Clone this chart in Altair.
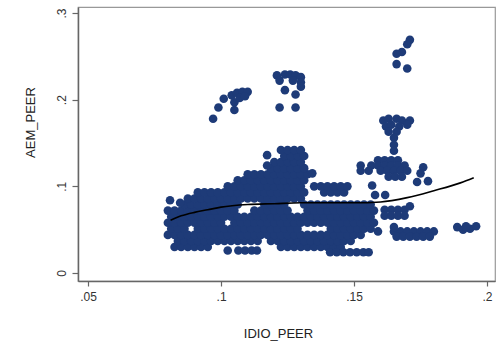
import altair as alt
import pandas as pd

# ---- main dense cloud, rows of IDIO_PEER values at a given AEM_PEER ----
row_030 = [0.0825,0.085,0.0875,0.09,0.0925,0.095,0.1225,0.125,0.1275,0.13,0.1325,0.135,0.1375,0.14,0.1425,0.145]
row_037 = [0.08375,0.08625,0.08875,0.09125,0.09375,0.09625,0.09875,0.10125,0.10375,0.10625,0.10875,0.11125,0.11375,0.11875,0.12125,0.12375,0.12625,0.12875,0.13125,0.13375,0.13625,0.13875,0.14125,0.14375,0.14625,0.14875]
row_044 = [0.08,0.0825,0.085,0.0875,0.09,0.0925,0.095,0.0975,0.1,0.1025,0.105,0.1075,0.11,0.1125,0.115,0.1175,0.12,0.1225,0.125,0.1275,0.13,0.1325,0.135,0.1375,0.14,0.1425,0.145,0.1475,0.15,0.1525]
row_051 = [0.08125,0.08375,0.08625,0.09125,0.09375,0.09625,0.09875,0.10125,0.10375,0.10625,0.10875,0.11125,0.11375,0.11625,0.11875,0.12125,0.12375,0.12625,0.12875,0.14125,0.14375,0.14625,0.14875,0.15125,0.15375,0.15625]
row_058 = [0.08,0.0825,0.085,0.0875,0.09,0.0925,0.095,0.0975,0.1,0.105,0.1075,0.11,0.1125,0.115,0.1175,0.12,0.1225,0.125,0.1275,0.13,0.1325,0.135,0.1375,0.14,0.1425,0.145,0.1475,0.15,0.1525,0.155,0.1575]
row_065 = [0.08125,0.08375,0.08625,0.08875,0.09125,0.09375,0.09625,0.09875,0.10125,0.10375,0.10625,0.10875,0.11125,0.11375,0.11625,0.11875,0.12125,0.12375,0.12625,0.12875,0.13125,0.13375,0.13625,0.13875,0.14125,0.14375,0.14625,0.14875,0.15125,0.15375,0.15625]
row_072 = [0.08,0.0825,0.085,0.0875,0.09,0.0925,0.095,0.0975,0.1,0.1025,0.105,0.1125,0.115,0.1175,0.12,0.1225,0.125,0.1325,0.135,0.1375,0.14,0.1425,0.145,0.1475,0.15,0.1525,0.155,0.1575]
row_079 = [0.08625,0.08875,0.09125,0.09375,0.09625,0.09875,0.10125,0.10375,0.10625,0.11625,0.11875,0.12125,0.12375,0.13125,0.13375,0.13625,0.13875,0.14125,0.14375,0.14625,0.14875,0.15125,0.15375,0.15625]
row_086 = [0.0875,0.09,0.0925,0.095,0.0975,0.1,0.1025,0.105,0.1075,0.11,0.1125,0.115,0.1175,0.12,0.1225,0.125,0.1275,0.13]
row_093 = [0.09125,0.09375,0.09625,0.09875,0.10125,0.10375,0.10625,0.10875,0.11125,0.11375,0.11625,0.11875,0.12125,0.12375,0.12625,0.12875,0.13125,0.13875,0.14125,0.14375,0.14625]
row_100 = [0.1025,0.105,0.1075,0.11,0.1125,0.115,0.1175,0.12,0.1225,0.125,0.1275,0.13,0.135,0.1375,0.14,0.1425,0.145,0.1475]
row_107 = [0.10625,0.10875,0.11125,0.11375,0.11625,0.11875,0.12125,0.12375,0.12625,0.12875,0.13125]
row_114 = [0.11,0.1125,0.115,0.1175,0.12,0.1225,0.125,0.1275,0.13,0.1325]
row_121 = [0.11875,0.12125,0.12375,0.12625,0.12875,0.13125]
row_128 = [0.12,0.1225,0.125,0.1275,0.13]
row_135 = [0.12375,0.12625,0.12875,0.13125]
row_142 = [0.1225,0.125,0.1275,0.13]

row_levels = [0.030,0.037,0.044,0.051,0.058,0.065,0.072,0.079,0.086,0.093,0.100,0.107,0.114,0.121,0.128,0.135,0.142]
row_lists = [row_030,row_037,row_044,row_051,row_058,row_065,row_072,row_079,row_086,row_093,row_100,row_107,row_114,row_121,row_128,row_135,row_142]

# ---- separate groups ----
clusterA_x = [0.097,0.099,0.101,0.105,0.105,0.104,0.106,0.108,0.110,0.107,0.109]
clusterA_y = [0.178,0.191,0.201,0.188,0.197,0.205,0.208,0.209,0.209,0.202,0.204]

clusterB_x = [0.121,0.124,0.126,0.128,0.130,0.122,0.130,0.127,0.124,0.128,0.122,0.128,0.130]
clusterB_y = [0.228,0.229,0.229,0.228,0.226,0.222,0.220,0.222,0.211,0.206,0.191,0.191,0.215]

clusterC_x = [0.171,0.170,0.168,0.166,0.166,0.170]
clusterC_y = [0.269,0.264,0.255,0.253,0.241,0.236]

clusterD_x = [0.161,0.163,0.166,0.168,0.171,0.162,0.164,0.167,0.170,0.163,0.166,0.165,0.165,0.165]
clusterD_y = [0.176,0.178,0.178,0.176,0.176,0.169,0.171,0.169,0.171,0.163,0.163,0.156,0.148,0.141]

strip_x = [0.1025,0.1065,0.109,0.1115,0.1135,0.141,0.1435,0.146,0.1485,0.151,0.1535,0.1555]
strip_y = [0.026,0.026,0.026,0.026,0.026,0.024,0.024,0.024,0.024,0.024,0.024,0.024]

upperR_x = [0.159,0.1615,0.164,0.1665,0.1525,0.1565,0.159,0.1615,0.164,0.1665,0.169,0.176,
            0.1525,0.1555,0.160,0.1625,0.165,0.1675,0.170,0.175,0.163,0.1655,0.168,
            0.1737,0.1778,0.1568,0.1579,0.1617]
upperR_y = [0.130,0.130,0.130,0.130,0.124,0.124,0.124,0.124,0.124,0.124,0.124,0.122,
            0.118,0.118,0.118,0.118,0.118,0.118,0.118,0.115,0.111,0.111,0.111,
            0.105,0.106,0.101,0.090,0.090]

lowR_x = [0.165,0.1675,0.17,0.1725,0.175,0.1775,0.18,0.166,0.1685,0.171,0.1735,0.176,0.1785,0.159,0.165,
          0.1615,0.164,0.1665,0.169,0.1615,0.164,0.1665,0.169,0.171,
          0.1888,0.191,0.1936,0.1959,0.1921]
lowR_y = [0.048,0.048,0.048,0.048,0.048,0.048,0.048,0.042,0.042,0.042,0.042,0.042,0.042,0.048,0.053,
          0.073,0.073,0.073,0.073,0.066,0.066,0.066,0.066,0.077,
          0.053,0.050,0.051,0.054,0.054]

misc_x = [0.0808,0.0846,0.1173,0.1173,0.1343]
misc_y = [0.084,0.081,0.136,0.124,0.115]

# ---- fitted curve ----
fit_x = [0.081,0.085,0.090,0.095,0.100,0.110,0.120,0.130,0.140,0.150,0.160,0.170,0.180,0.190,0.195]
fit_y = [0.061,0.066,0.070,0.073,0.076,0.079,0.080,0.081,0.081,0.081,0.082,0.087,0.095,0.104,0.110]

xs, ys = [], []
for yv, lst in zip(row_levels, row_lists):
    for xv in lst:
        xs.append(xv)
        ys.append(yv)
for gx, gy in [(clusterA_x, clusterA_y), (clusterB_x, clusterB_y), (clusterC_x, clusterC_y),
               (clusterD_x, clusterD_y), (strip_x, strip_y), (upperR_x, upperR_y),
               (lowR_x, lowR_y), (misc_x, misc_y)]:
    xs.extend(gx)
    ys.extend(gy)

pts = pd.DataFrame({"IDIO_PEER": xs, "AEM_PEER": ys})
fit = pd.DataFrame({"IDIO_PEER": fit_x, "AEM_PEER": fit_y})

FONT = "Liberation Sans"
lab_expr = "replace(toString(datum.value), '0.', '.')"

xscale = alt.Scale(domain=[0.0462, 0.203], nice=False, zero=False)
yscale = alt.Scale(domain=[-0.0092, 0.3069], nice=False, zero=False)

xaxis = alt.Axis(values=[0.05, 0.1, 0.15, 0.2], labelExpr=lab_expr, grid=False,
                 domainColor="#666", domainWidth=1.5, tickColor="#666", tickWidth=1.2,
                 tickSize=5, labelPadding=5, labelFontSize=12, labelColor="#333",
                 labelFont=FONT, title="IDIO_PEER", titleFont=FONT, titleFontSize=13,
                 titleFontWeight="normal", titleColor="#222", titleX=200, titleY=52,
                 titleBaseline="middle", titleAlign="center")
yaxis = alt.Axis(values=[0, 0.1, 0.2, 0.3], labelExpr=lab_expr, grid=False,
                 domainColor="#666", domainWidth=1.5, tickColor="#666", tickWidth=1.2,
                 tickSize=6, labelPadding=4, labelFontSize=12, labelColor="#333",
                 labelFont=FONT, labelAngle=270, labelAlign="center", labelBaseline="bottom",
                 title="AEM_PEER", titleFont=FONT, titleFontSize=13,
                 titleFontWeight="normal", titleColor="#222", titleX=-48, titleY=115,
                 titleAngle=270, titleBaseline="middle", titleAlign="center")

points = alt.Chart(pts).mark_circle(size=74, color="#1e3b78", opacity=1).encode(
    x=alt.X("IDIO_PEER:Q", scale=xscale, axis=xaxis),
    y=alt.Y("AEM_PEER:Q", scale=yscale, axis=yaxis),
)
line = alt.Chart(fit).mark_line(color="black", strokeWidth=1.6, interpolate="monotone").encode(
    x=alt.X("IDIO_PEER:Q", scale=xscale),
    y=alt.Y("AEM_PEER:Q", scale=yscale),
)

chart = alt.layer(points, line).properties(
    width=417, height=274,
    autosize=alt.AutoSizeParams(type="none"),
    padding={"left": 78, "top": 7, "right": 2, "bottom": 66},
    background="white",
).configure_view(stroke="#999", strokeWidth=1.2)

chart.save("out.html", embed_options={"renderer": "svg", "actions": False})
